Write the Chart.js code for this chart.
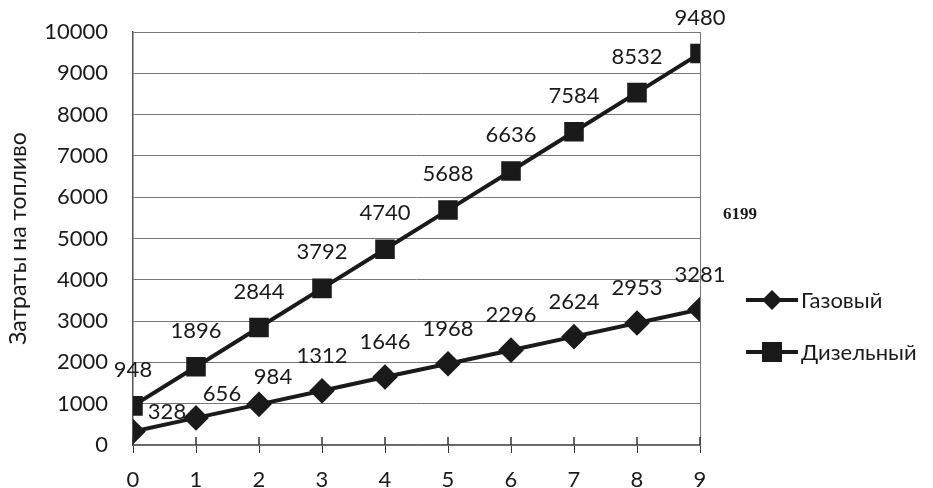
<!DOCTYPE html>
<html>
<head>
<meta charset="utf-8">
<script src="https://cdn.jsdelivr.net/npm/chart.js@4"></script>
<style>
  html, body { margin: 0; padding: 0; background: #fff; }
  #wrap { width: 933px; height: 488px; }
</style>
</head>
<body>
<div id="wrap"><canvas id="fuelChart"></canvas></div>
<script>
// data
const years = [0, 1, 2, 3, 4, 5, 6, 7, 8, 9];
const gasCost = [328, 656, 984, 1312, 1646, 1968, 2296, 2624, 2953, 3281];
const dieselCost = [948, 1896, 2844, 3792, 4740, 5688, 6636, 7584, 8532, 9480];
const seriesNames = ["Газовый", "Дизельный"];
const strayNote = "6199";

const FONT = "Lato, 'Open Sans', sans-serif";
const INK = "#1a1a1a";

// labels, legend and crossing ticks drawn by hand
const extrasPlugin = {
  id: "extras",
  afterDatasetsDraw(chart) {
    const ctx = chart.ctx;
    const xs = chart.scales.x;
    const ys = chart.scales.y;

    // x ticks crossing the axis
    ctx.save();
    ctx.strokeStyle = "#333";
    ctx.lineWidth = 1.5;
    const y0 = ys.getPixelForValue(0);
    years.forEach((v) => {
      const px = xs.getPixelForValue(v);
      ctx.beginPath();
      ctx.moveTo(px, y0 - 8);
      ctx.lineTo(px, y0);
      ctx.stroke();
    });

    // value labels
    ctx.font = "22px " + FONT;
    ctx.fillStyle = INK;
    ctx.textAlign = "center";
    ctx.textBaseline = "middle";
    const gasShift = [[34, -20], [26, -24], [14, -27]];
    chart.data.datasets.forEach((ds, i) => {
      const meta = chart.getDatasetMeta(i);
      meta.data.forEach((pt, j) => {
        let dx = 0, dy = -36;
        if (i === 0) {
          dy = -35;
          if (gasShift[j]) { dx = gasShift[j][0]; dy = gasShift[j][1]; }
        }
        ctx.fillText(String(ds.data[j].y), pt.x + dx, pt.y + dy);
      });
    });

    // legend
    const entries = [
      { name: seriesNames[0], y: 300, style: "rectRot" },
      { name: seriesNames[1], y: 352, style: "rect" },
    ];
    entries.forEach((e) => {
      ctx.strokeStyle = INK;
      ctx.lineWidth = 4;
      ctx.beginPath();
      ctx.moveTo(746, e.y);
      ctx.lineTo(798, e.y);
      ctx.stroke();
      ctx.fillStyle = INK;
      if (e.style === "rect") {
        ctx.fillRect(762, e.y - 10, 20, 20);
      } else {
        ctx.beginPath();
        ctx.moveTo(772, e.y - 10);
        ctx.lineTo(782, e.y);
        ctx.lineTo(772, e.y + 10);
        ctx.lineTo(762, e.y);
        ctx.closePath();
        ctx.fill();
      }
      ctx.font = "22px " + FONT;
      ctx.textAlign = "left";
      ctx.fillText(e.name, 801, e.y + 1);
    });

    // stray bold number on the right
    ctx.font = "bold 17px 'Liberation Serif', serif";
    ctx.textAlign = "center";
    ctx.fillText(strayNote, 740, 215);
    ctx.restore();
  },
};

const chart = new Chart(document.getElementById("fuelChart"), {
  type: "line",
  data: {
    datasets: [
      {
        label: seriesNames[0],
        data: years.map((x, i) => ({ x: x, y: gasCost[i] })),
        borderColor: INK,
        backgroundColor: INK,
        borderWidth: 4,
        pointStyle: "rectRot",
        pointRadius: 10,
        pointHoverRadius: 10,
      },
      {
        label: seriesNames[1],
        data: years.map((x, i) => ({ x: x, y: dieselCost[i] })),
        borderColor: INK,
        backgroundColor: INK,
        borderWidth: 4,
        pointStyle: "rect",
        pointRadius: 11,
        pointHoverRadius: 11,
      },
    ],
  },
  options: {
    responsive: true,
    maintainAspectRatio: false,
    animation: false,
    layout: { padding: { top: 32, right: 233, bottom: 0, left: 0 } },
    plugins: {
      legend: { display: false },
      tooltip: { enabled: false },
    },
    scales: {
      x: {
        type: "linear",
        min: 0,
        max: 9,
        afterFit: (s) => { s.height = 43; },
        ticks: {
          stepSize: 1,
          padding: 14,
          color: INK,
          font: { family: FONT, size: 22 },
        },
        grid: {
          color: (c) => (c.tick && c.tick.value === 9 ? "#777" : "transparent"),
          tickColor: "#333",
          tickLength: 8,
        },
        border: { color: "#666", width: 1.5 },
      },
      y: {
        min: 0,
        max: 10000,
        afterFit: (s) => { s.width = 133; },
        ticks: {
          stepSize: 1000,
          padding: 3,
          color: INK,
          font: { family: FONT, size: 22 },
          callback: (v) => String(v),
        },
        grid: { color: "#777", tickLength: 22, tickColor: "transparent" },
        border: { color: "#555", width: 1.5 },
        title: {
          display: true,
          text: "Затраты на топливо",
          color: INK,
          font: { family: FONT, size: 23 },
          padding: { top: 5, bottom: 0 },
        },
      },
    },
  },
  plugins: [extrasPlugin],
});
</script>
</body>
</html>
